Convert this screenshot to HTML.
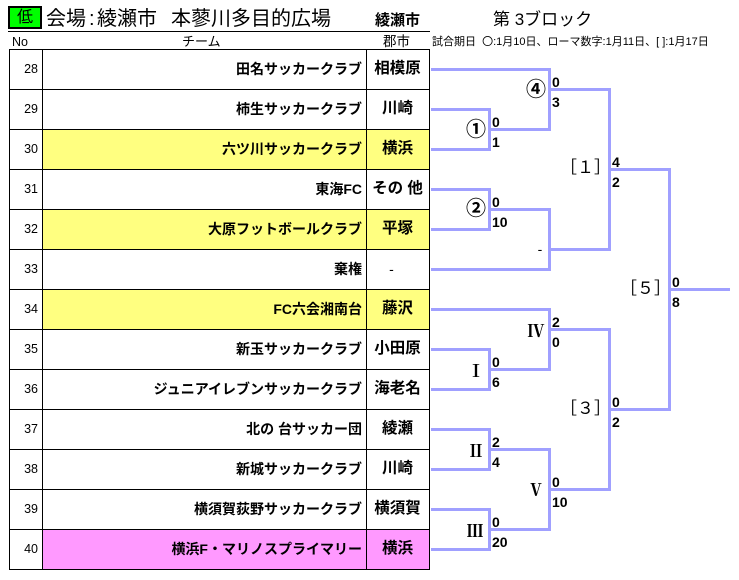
<!DOCTYPE html>
<html><head><meta charset="utf-8">
<style>
html,body{margin:0;padding:0;background:#fff;}
body{width:739px;height:580px;position:relative;overflow:hidden;font-family:"Liberation Sans","Noto Sans CJK JP",sans-serif;color:#000;}
.a{position:absolute;white-space:pre;}
.no{left:9px;width:29px;height:40px;line-height:40px;text-align:right;font-size:12.5px;}
.tm{left:42px;width:320px;height:40px;line-height:40px;text-align:right;font-size:14px;font-weight:bold;}
.ct{left:366px;width:63px;height:40px;line-height:40px;text-align:center;font-size:15.5px;font-weight:bold;}
.s{font-size:14px;line-height:14px;font-weight:bold;}
.l{width:40px;height:20px;line-height:20px;text-align:center;}
.c{font-size:20px;font-weight:bold;font-family:"Liberation Sans","Noto Sans CJK JP",sans-serif;}
.r{font-size:17px;font-weight:bold;font-family:"Noto Serif CJK SC",serif;}
.b{font-size:17px;font-family:"Liberation Sans","Noto Sans CJK JP",sans-serif;}
</style></head><body>
<svg width="739" height="580" style="position:absolute;left:0;top:0">
  <rect x="42" y="129" width="388" height="40" fill="#ffff80"/>
  <rect x="42" y="209" width="388" height="40" fill="#ffff80"/>
  <rect x="42" y="289" width="388" height="40" fill="#ffff80"/>
  <rect x="42" y="529" width="388" height="40" fill="#ff99ff"/>
  <rect x="8" y="31" width="422" height="1" fill="#000"/>
  <g stroke="#000" stroke-width="1" fill="none">
    <path d="M9 49.5H430M9 89.5H430M9 129.5H430M9 169.5H430M9 209.5H430M9 249.5H430M9 289.5H430M9 329.5H430M9 369.5H430M9 409.5H430M9 449.5H430M9 489.5H430M9 529.5H430M9 569.5H430"/>
    <path d="M9.5 49V570M42.5 49V570M366.5 49V570M429.5 49V570"/>
  </g>
  <g stroke="#a0a0ff" stroke-width="3" fill="none" stroke-linejoin="miter">
    <path d="M431 109.5H489.5V149.5H431"/>
    <path d="M431 69.5H549.5V129.5H489.5"/>
    <path d="M549.5 89.5H609.5V249.5H549.5"/>
    <path d="M431 189.5H489.5V229.5H431"/>
    <path d="M489.5 209.5H549.5V269.5H431"/>
    <path d="M609.5 169.5H669.5V409.5H609.5"/>
    <path d="M669.5 289.5H730"/>
    <path d="M431 309.5H549.5V369.5H489.5"/>
    <path d="M431 349.5H489.5V389.5H431"/>
    <path d="M549.5 329.5H609.5V489.5H549.5"/>
    <path d="M431 429.5H489.5V469.5H431"/>
    <path d="M489.5 449.5H549.5V529.5H489.5"/>
    <path d="M431 509.5H489.5V549.5H431"/>
  </g>
</svg>

<div class="a" style="left:8px;top:6px;width:34px;height:23px;box-sizing:border-box;border:2px solid #000;background:#00ff00;text-align:center;line-height:19px;font-size:16px;">低</div>
<div class="a" style="left:46px;top:9px;height:20px;line-height:20px;font-size:20px;">会場</div>
<div class="a" style="left:89px;top:9px;height:20px;line-height:20px;font-size:20px;">:</div>
<div class="a" style="left:97px;top:9px;height:20px;line-height:20px;font-size:20px;">綾瀬市</div>
<div class="a" style="left:171px;top:9px;height:20px;line-height:20px;font-size:20px;">本蓼川多目的広場</div>
<div class="a" style="left:375px;top:13px;height:16px;line-height:16px;font-size:15px;font-weight:bold;">綾瀬市</div>
<div class="a" style="left:493px;top:11px;height:17px;line-height:17px;font-size:17px;">第 3ブロック</div>

<div class="a" style="left:12px;top:35px;height:14px;line-height:14px;font-size:12.5px;">No</div>
<div class="a" style="left:182px;top:35px;height:14px;line-height:14px;font-size:13px;">チーム</div>
<div class="a" style="left:383px;top:35px;height:14px;line-height:14px;font-size:13.5px;">郡市</div>
<div class="a" style="left:432px;top:36px;height:12px;line-height:12px;font-size:11px;">試合期日  〇:1月10日、ローマ数字:1月11日、[ ]:1月17日</div>

<div class="a no" style="top:49px">28</div><div class="a tm" style="top:49px">田名サッカークラブ</div><div class="a ct" style="top:49px">相模原</div>
<div class="a no" style="top:89px">29</div><div class="a tm" style="top:89px">柿生サッカークラブ</div><div class="a ct" style="top:89px">川崎</div>
<div class="a no" style="top:129px">30</div><div class="a tm" style="top:129px">六ツ川サッカークラブ</div><div class="a ct" style="top:129px">横浜</div>
<div class="a no" style="top:169px">31</div><div class="a tm" style="top:169px">東海FC</div><div class="a ct" style="top:169px">その 他</div>
<div class="a no" style="top:209px">32</div><div class="a tm" style="top:209px">大原フットボールクラブ</div><div class="a ct" style="top:209px">平塚</div>
<div class="a no" style="top:249px">33</div><div class="a tm" style="top:249px">棄権</div><div class="a ct" style="top:249px;width:51px;font-weight:normal;font-size:14px">-</div>
<div class="a no" style="top:289px">34</div><div class="a tm" style="top:289px">FC六会湘南台</div><div class="a ct" style="top:289px">藤沢</div>
<div class="a no" style="top:329px">35</div><div class="a tm" style="top:329px">新玉サッカークラブ</div><div class="a ct" style="top:329px">小田原</div>
<div class="a no" style="top:369px">36</div><div class="a tm" style="top:369px">ジュニアイレブンサッカークラブ</div><div class="a ct" style="top:369px">海老名</div>
<div class="a no" style="top:409px">37</div><div class="a tm" style="top:409px">北の 台サッカー団</div><div class="a ct" style="top:409px">綾瀬</div>
<div class="a no" style="top:449px">38</div><div class="a tm" style="top:449px">新城サッカークラブ</div><div class="a ct" style="top:449px">川崎</div>
<div class="a no" style="top:489px">39</div><div class="a tm" style="top:489px">横須賀荻野サッカークラブ</div><div class="a ct" style="top:489px">横須賀</div>
<div class="a no" style="top:529px">40</div><div class="a tm" style="top:529px">横浜F・マリノスプライマリー</div><div class="a ct" style="top:529px">横浜</div>

<div class="a l c" style="left:516px;top:80px">④</div>
<div class="a l c" style="left:456px;top:120px">①</div>
<div class="a l c" style="left:456px;top:199px">②</div>
<div class="a l" style="left:520px;top:239px;font-size:14px">-</div>
<div class="a l b" style="left:560px;top:158px;width:50px">［１］</div>
<div class="a l b" style="left:620px;top:279px;width:50px">［５］</div>
<div class="a l b" style="left:560px;top:399px;width:50px">［３］</div>
<div class="a l r" style="left:516px;top:320px">Ⅳ</div>
<div class="a l r" style="left:456px;top:360px">Ⅰ</div>
<div class="a l r" style="left:456px;top:440px">Ⅱ</div>
<div class="a l r" style="left:516px;top:479px">Ⅴ</div>
<div class="a l r" style="left:455px;top:520px">Ⅲ</div>

<div class="a s" style="left:552px;top:75px">0</div><div class="a s" style="left:552px;top:95px">3</div>
<div class="a s" style="left:492px;top:115px">0</div><div class="a s" style="left:492px;top:135px">1</div>
<div class="a s" style="left:612px;top:155px">4</div><div class="a s" style="left:612px;top:175px">2</div>
<div class="a s" style="left:492px;top:195px">0</div><div class="a s" style="left:492px;top:215px">10</div>
<div class="a s" style="left:672px;top:275px">0</div><div class="a s" style="left:672px;top:295px">8</div>
<div class="a s" style="left:552px;top:315px">2</div><div class="a s" style="left:552px;top:335px">0</div>
<div class="a s" style="left:492px;top:355px">0</div><div class="a s" style="left:492px;top:375px">6</div>
<div class="a s" style="left:612px;top:395px">0</div><div class="a s" style="left:612px;top:415px">2</div>
<div class="a s" style="left:492px;top:435px">2</div><div class="a s" style="left:492px;top:455px">4</div>
<div class="a s" style="left:552px;top:475px">0</div><div class="a s" style="left:552px;top:495px">10</div>
<div class="a s" style="left:492px;top:515px">0</div><div class="a s" style="left:492px;top:535px">20</div>
</body></html>
